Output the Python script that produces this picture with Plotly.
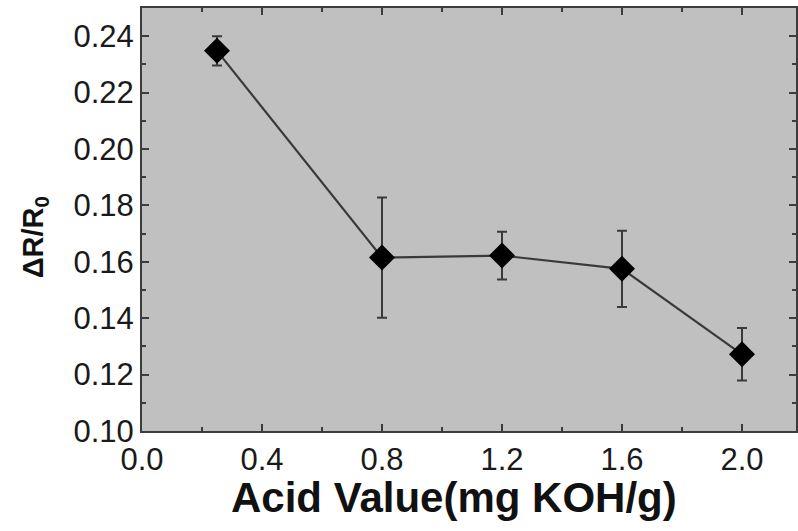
import plotly.graph_objects as go

acid_value = [0.25, 0.8, 1.2, 1.6, 2.0]
delta_r = [0.2348, 0.1615, 0.1622, 0.1575, 0.1272]
err = [0.0052, 0.0213, 0.0085, 0.0135, 0.0093]

x_ticks = [0.0, 0.4, 0.8, 1.2, 1.6, 2.0]
x_tick_labels = ["0.0", "0.4", "0.8", "1.2", "1.6", "2.0"]
y_ticks = [0.10, 0.12, 0.14, 0.16, 0.18, 0.20, 0.22, 0.24]
y_tick_labels = ["0.10", "0.12", "0.14", "0.16", "0.18", "0.20", "0.22", "0.24"]

fig = go.Figure()
fig.add_trace(go.Scatter(
    x=acid_value, y=delta_r, mode="lines+markers",
    line=dict(color="#3a3a3a", width=2.2),
    marker=dict(symbol="diamond", size=20, color="black"),
    error_y=dict(type="data", array=err, visible=True, color="#3a3a3a",
                 thickness=2, width=5),
    showlegend=False,
))

axis_common = dict(
    showline=True, linecolor="#3c3c3c", linewidth=2, mirror="ticks",
    ticks="inside", ticklen=7, tickwidth=2, tickcolor="#3c3c3c",
    showgrid=False, zeroline=False,
    tickfont=dict(family="Liberation Sans, Arial, sans-serif", size=31, color="#1a1a1a"),
)

fig.update_xaxes(range=[0, 2.18], tickvals=x_ticks, ticktext=x_tick_labels,
                 minor=dict(dtick=0.2, ticks="inside", ticklen=4, tickwidth=2, tickcolor="#3c3c3c"),
                 **axis_common)
fig.update_yaxes(range=[0.10, 0.25], tickvals=y_ticks, ticktext=y_tick_labels,
                 minor=dict(dtick=0.01, ticks="inside", ticklen=4, tickwidth=2, tickcolor="#3c3c3c"),
                 **axis_common)

fig.add_annotation(text="<b>Acid Value(mg KOH/g)</b>", xref="paper", yref="paper",
                   x=(455 - 142) / 656, y=-(497 - 431) / 423, xanchor="center", yanchor="middle",
                   showarrow=False,
                   font=dict(family="Liberation Sans, Arial, sans-serif", size=42, color="#111111"))
fig.add_annotation(text="<b>ΔR/R<sub>0</sub></b>", xref="paper", yref="paper",
                   x=-(142 - 35) / 656, y=(431 - 237) / 423, xanchor="center", yanchor="middle",
                   textangle=-90, showarrow=False,
                   font=dict(family="Liberation Sans, Arial, sans-serif", size=29, color="#111111"))

fig.update_layout(
    width=798, height=531,
    margin=dict(l=142, r=0, t=8, b=100),
    plot_bgcolor="#c0c0c0", paper_bgcolor="white",
)

fig.write_html("out.html")
